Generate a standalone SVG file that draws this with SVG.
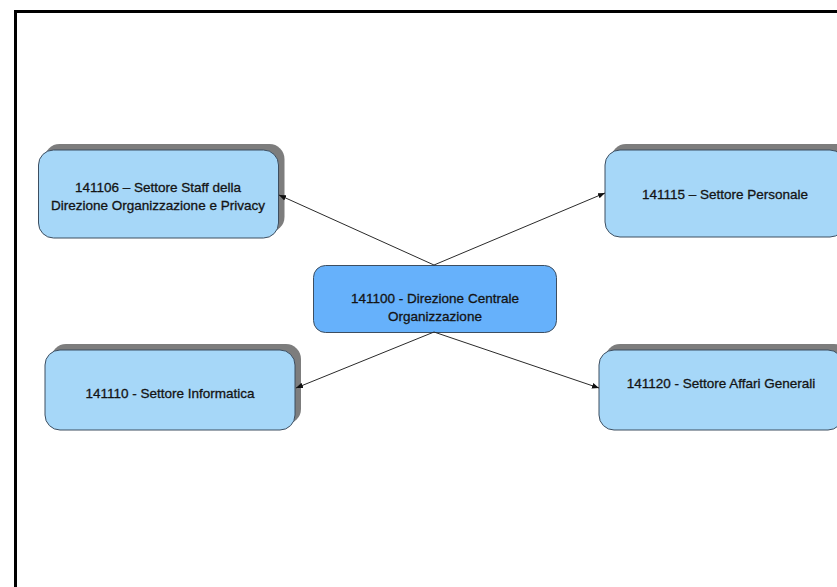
<svg xmlns="http://www.w3.org/2000/svg" width="837" height="587" viewBox="0 0 837 587">
  <defs>
    <style>
      .node { fill: #a6d7f8; stroke: #3d4e60; stroke-width: 1; }
      .main { fill: #66b1fb; stroke: #3d4e60; stroke-width: 1; }
      .shadow { fill: #7d7d7d; }
      .label { font-family: "Liberation Sans", Arial, sans-serif; font-size: 13.5px; fill: #141414; stroke: #141414; stroke-width: 0.3; text-anchor: middle; }
      .conn { stroke: #2a2a2a; stroke-width: 1; fill: none; marker-end: url(#arrow); }
    </style>
    <marker id="arrow" viewBox="0 0 10 10" refX="10" refY="5" markerWidth="7" markerHeight="7" orient="auto" markerUnits="userSpaceOnUse">
      <path d="M0,1 L10,5 L0,9 z" fill="#111"/>
    </marker>
  </defs>
  <rect width="837" height="587" fill="#ffffff"/>
  <rect x="15.5" y="11.5" width="900" height="700" fill="none" stroke="#000" stroke-width="3"/>

  <g id="node-141106">
    <rect class="shadow" x="44.5" y="144" width="240" height="88" rx="15"/>
    <rect class="node" x="38.5" y="150" width="240" height="88" rx="15"/>
    <text class="label" x="158" y="192">141106 – Settore Staff della</text>
    <text class="label" x="158" y="210">Direzione Organizzazione e Privacy</text>
  </g>

  <g id="node-141115">
    <rect class="shadow" x="611" y="144" width="240" height="87" rx="15"/>
    <rect class="node" x="605" y="150" width="240" height="87" rx="15"/>
    <text class="label" x="725" y="199">141115 – Settore Personale</text>
  </g>

  <g id="node-141100">
    <rect class="main" x="313.5" y="265.5" width="243" height="67" rx="12"/>
    <text class="label" x="435" y="303">141100 - Direzione Centrale</text>
    <text class="label" x="435" y="321">Organizzazione</text>
  </g>

  <g id="node-141110">
    <rect class="shadow" x="51" y="344" width="250" height="80" rx="15"/>
    <rect class="node" x="45" y="350" width="250" height="80" rx="15"/>
    <text class="label" x="170" y="398">141110 - Settore Informatica</text>
  </g>

  <g id="node-141120">
    <rect class="shadow" x="605" y="344" width="244" height="80" rx="15"/>
    <rect class="node" x="599" y="350" width="244" height="80" rx="15"/>
    <text class="label" x="721" y="388">141120 - Settore Affari Generali</text>
  </g>

  <g id="connectors">
    <line class="conn" x1="434" y1="265" x2="279" y2="195"/>
    <line class="conn" x1="434" y1="265" x2="605" y2="193"/>
    <line class="conn" x1="434" y1="332" x2="296" y2="388"/>
    <line class="conn" x1="434" y1="332" x2="599" y2="388"/>
  </g>
</svg>
